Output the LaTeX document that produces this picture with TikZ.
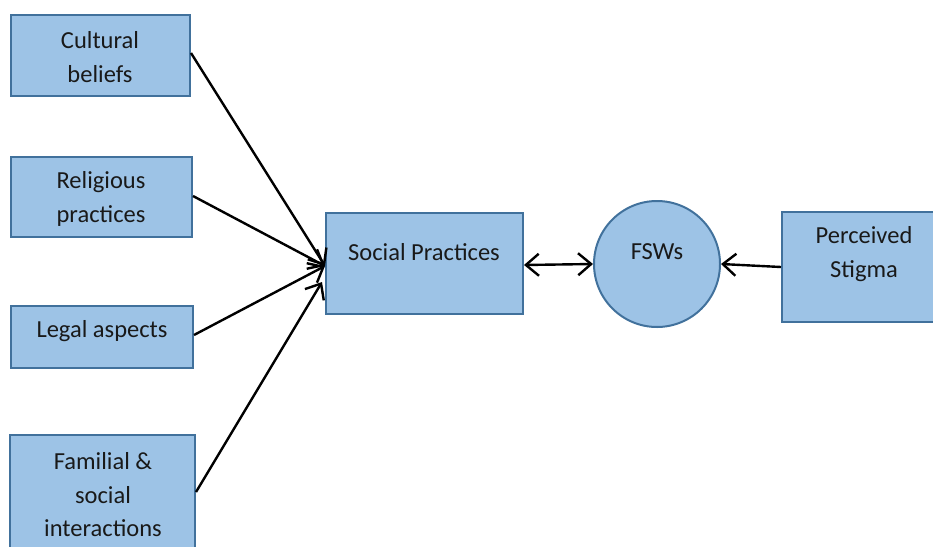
\documentclass[tikz,border=0pt]{standalone}
\usepackage{fontspec}
\setmainfont{Carlito}
\usetikzlibrary{arrows.meta}
\definecolor{boxfill}{RGB}{157,195,230}
\definecolor{boxline}{RGB}{65,113,156}
\tikzset{
  box/.style={draw=boxline, fill=boxfill, line width=2pt, inner sep=0pt},
  lbl/.style={font=\fontsize{24.5}{33.5}\selectfont, align=center, text=black!90, inner sep=0pt},
  conn/.style={line width=2.4pt, -{Straight Barb[length=13pt,width=22pt,line width=2.4pt]}},
  dconn/.style={line width=2.4pt, {Straight Barb[length=13pt,width=22pt,line width=2.4pt]}-{Straight Barb[length=13pt,width=22pt,line width=2.4pt]}},
}
\begin{document}
\begin{tikzpicture}[x=1pt,y=-1pt]
\useasboundingbox (0,0) rectangle (933,546);
\clip (0,0) rectangle (933,546);
% boxes
\node[box, minimum width=179pt, minimum height=81pt] (cb) at (100.5,55.5) {};
\node[box, minimum width=181pt, minimum height=80pt] (rp) at (101.5,197) {};
\node[box, minimum width=182pt, minimum height=62pt] (la) at (102,337) {};
\node[box, minimum width=185pt, minimum height=130pt] (fs) at (102.5,500) {};
\node[box, minimum width=197pt, minimum height=101pt] (sp) at (424.5,263.5) {};
\node[box, circle, minimum size=126pt] (fsw) at (657,264) {};
\node[box, minimum width=152pt, minimum height=110pt] (ps) at (858,267) {};
% labels
\node[lbl] (tcb) at (100,57) {Cultural\\beliefs};
\node[lbl] (trp) at (101,199) {Religious\\practices};
\node[lbl] (tla) at (102,331) {Legal aspects};
\node[lbl] (tfs) at (103,495) {Familial \&\\social\\interactions};
\node[lbl] (tsp) at (424,252) {Social Practices};
\node[lbl] (tfsw) at (657,252) {FSWs};
\node[lbl] (tps) at (864,254) {Perceived\\Stigma};
% connectors
\coordinate (hub) at (325,266);
\coordinate (hub2) at (322,282);
\draw[conn] (cb.east |- 0,53) -- (hub);
\draw[conn] (rp.east |- 0,196) -- (hub);
\draw[conn] (la.east |- 0,335) -- (hub);
\draw[conn] (fs.east |- 0,492) -- (hub2);
\draw[dconn] (sp.east |- 0,265) -- (fsw.west);
\draw[conn] (ps.west |- 0,267) -- (fsw.east);
\end{tikzpicture}
\end{document}
